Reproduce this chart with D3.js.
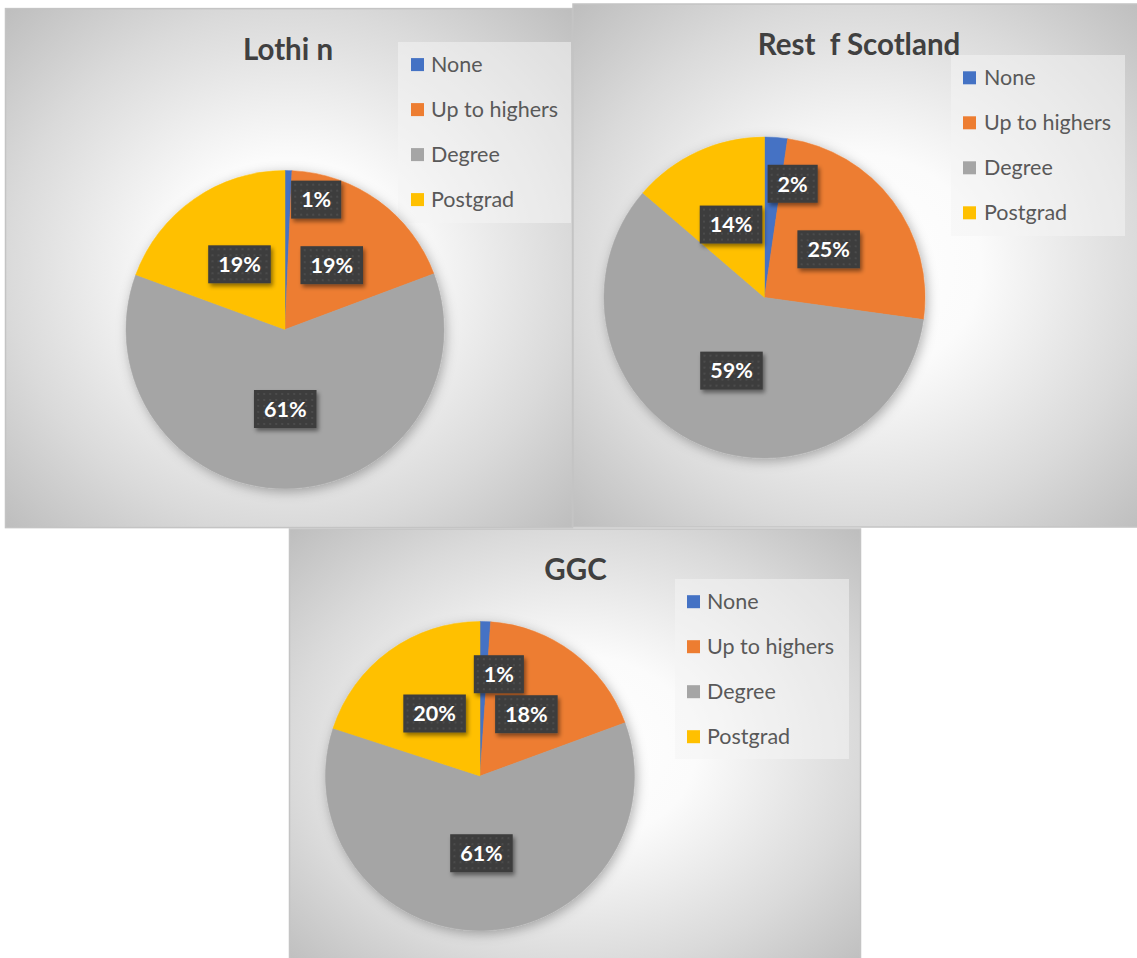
<!DOCTYPE html>
<html><head><meta charset="utf-8">
<script src="https://cdn.jsdelivr.net/npm/d3@7"></script>
<style>body{margin:0;background:#fff;} svg{display:block;}</style>
</head><body>
<svg id="chart" width="1137" height="958"></svg>
<script>
// ---- data ----
const categories = ["None", "Up to highers", "Degree", "Postgrad"];
const lothianValues = [0.7, 18.6, 61.3, 19.4];
const restValues = [2.3, 24.9, 59.1, 13.7];
const ggcValues = [1.1, 18.3, 60.6, 20.0];
const chartTitles = ["Lothi n", "Rest  f Scotland", "GGC"];
const sliceColors = ["#4472C4", "#ED7D31", "#A5A5A5", "#FFC000"];

// ---- layout (positions / sizes) ----
const layout = [
  {x:5.5, y:8.6, w:567, h:519, cx:285, cy:329.5, r:159, titleX:288, titleY:60,
   legX:398, legY:42, legW:173, legH:181, legItemX:411, legTextX:431, legRowY:64.6,
   smallLabel:{angle:13.5, frac:0.84}},
  {x:573, y:4, w:572, h:523, cx:764.5, cy:297.5, r:160.5, titleX:859, titleY:55,
   legX:951, legY:55, legW:174, legH:181, legItemX:963, legTextX:984, legRowY:77.8,
   smallLabel:{angle:13.9, frac:0.73}},
  {x:289.5, y:529, w:571, h:440, cx:480, cy:776, r:154.5, titleX:575.5, titleY:580,
   legX:675, legY:579, legW:174, legH:180, legItemX:687, legTextX:707, legRowY:601.7,
   smallLabel:{angle:10.5, frac:0.67}}
];
const seriesList = [lothianValues, restValues, ggcValues];
const FONT = "Lato, 'Open Sans', sans-serif";

const svg = d3.select("#chart");
const defs = svg.append("defs");

// background gradient
const grad = defs.append("radialGradient").attr("id", "bgGrad")
  .attr("cx", "50%").attr("cy", "50%").attr("r", "71%");
[[0, "#ffffff"], [0.3, "#fbfbfb"], [0.7, "#dadada"], [1, "#bdbdbd"]].forEach(s =>
  grad.append("stop").attr("offset", s[0]).attr("stop-color", s[1]));

// pie shadow
const pf = defs.append("filter").attr("id", "pieShadow")
  .attr("x", "-20%").attr("y", "-20%").attr("width", "140%").attr("height", "140%");
pf.append("feDropShadow").attr("dx", 2).attr("dy", 3).attr("stdDeviation", 6)
  .attr("flood-color", "#000").attr("flood-opacity", 0.3);

// label shadow
const lf = defs.append("filter").attr("id", "lblShadow")
  .attr("x", "-30%").attr("y", "-30%").attr("width", "160%").attr("height", "160%");
lf.append("feDropShadow").attr("dx", 2).attr("dy", 3).attr("stdDeviation", 2)
  .attr("flood-color", "#000").attr("flood-opacity", 0.45);

// dotted pattern for label boxes
const pat = defs.append("pattern").attr("id", "dots").attr("patternUnits", "userSpaceOnUse")
  .attr("width", 6).attr("height", 6);
pat.append("rect").attr("width", 6).attr("height", 6).attr("fill", "#3d3d3d");
pat.append("circle").attr("cx", 3).attr("cy", 3).attr("r", 0.8).attr("fill", "#5c5c5c");

const pie = d3.pie().sort(null).value(d => d);

layout.forEach((L, i) => {
  const values = seriesList[i];
  const g = svg.append("g");

  // panel
  g.append("rect").attr("x", L.x).attr("y", L.y).attr("width", L.w).attr("height", L.h)
    .attr("fill", "url(#bgGrad)").attr("stroke", "#c4c4c4").attr("stroke-width", 1.5);

  // title
  g.append("text").attr("x", L.titleX).attr("y", L.titleY)
    .attr("text-anchor", "middle").style("white-space", "pre")
    .attr("font-family", FONT).attr("font-weight", 700).attr("font-size", 29.5)
    .attr("fill", "#404040").text(chartTitles[i]);

  // legend
  g.append("rect").attr("x", L.legX).attr("y", L.legY).attr("width", L.legW).attr("height", L.legH)
    .attr("fill", "#f4f4f4").attr("opacity", 0.55);
  const leg = g.selectAll(".leg").data(categories).enter().append("g")
    .attr("transform", (d, k) => `translate(0,${L.legRowY + k * 45})`);
  leg.append("rect").attr("x", L.legItemX).attr("y", -6.5).attr("width", 13).attr("height", 13)
    .attr("fill", (d, k) => sliceColors[k]);
  leg.append("text").attr("x", L.legTextX).attr("y", 0).attr("dy", "0.35em")
    .attr("font-family", FONT).attr("font-size", 21.5).attr("fill", "#595959").text(d => d);

  // pie
  const arcs = pie(values);
  const arc = d3.arc().innerRadius(0).outerRadius(L.r);
  const pg = g.append("g").attr("transform", `translate(${L.cx},${L.cy})`);
  pg.append("g").attr("filter", "url(#pieShadow)")
    .selectAll("path").data(arcs).enter().append("path")
    .attr("d", arc).attr("fill", (d, k) => sliceColors[k])
    .attr("stroke", (d, k) => sliceColors[k]).attr("stroke-width", 0.5);

  // labels
  const total = d3.sum(values);
  const labelArc = d3.arc().innerRadius(L.r * 0.5).outerRadius(L.r * 0.5);
  arcs.forEach((a, k) => {
    let px, py;
    if (a.value / total < 0.05) {
      const ang = L.smallLabel.angle * Math.PI / 180;
      px = Math.sin(ang) * L.r * L.smallLabel.frac;
      py = -Math.cos(ang) * L.r * L.smallLabel.frac;
    } else {
      [px, py] = labelArc.centroid(a);
    }
    const txt = Math.round(a.value / total * 100) + "%";
    const lg = pg.append("g").attr("transform", `translate(${px},${py})`);
    const box = lg.append("rect").attr("fill", "url(#dots)").attr("filter", "url(#lblShadow)");
    const t = lg.append("text").attr("text-anchor", "middle").attr("dy", "0.36em")
      .attr("font-family", FONT).attr("font-weight", 700).attr("font-size", 21.5)
      .attr("fill", "#ffffff").text(txt);
    const tw = t.node().getComputedTextLength();
    const bw = tw + 20, bh = 38;
    box.attr("x", -bw / 2).attr("y", -bh / 2).attr("width", bw).attr("height", bh);
  });
});
</script>
</body></html>
